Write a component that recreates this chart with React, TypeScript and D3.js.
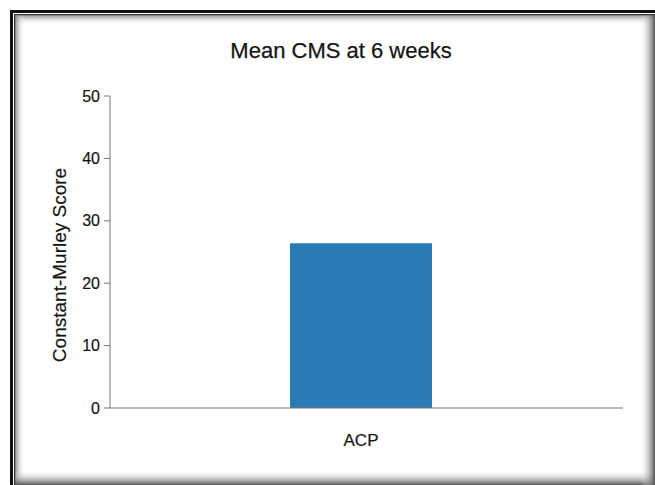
import React from "react";
import * as d3 from "d3";

const categories: string[] = ["ACP"];
const meanScores: number[] = [26.4];
const yTicks: number[] = [0, 10, 20, 30, 40, 50];
const chartTitle = "Mean CMS at 6 weeks";
const yLabel = "Constant-Murley Score";

const W = 655;
const H = 485;
const FONT = "'Liberation Sans', Arial, Helvetica, sans-serif";
const INK = "#141414";

export default function App() {
  const plot = { left: 110, right: 623, top: 96, bottom: 408 };

  const y = d3.scaleLinear().domain([0, 50]).range([plot.bottom, plot.top]);
  const x = d3
    .scaleBand<string>()
    .domain(categories)
    .range([plot.left, 612])
    .padding(0.559);

  return (
    <svg
      width={W}
      height={H}
      style={{ position: "absolute", left: 0, top: 0, background: "#fff" }}
      fontFamily={FONT}
    >
      <defs>
        <linearGradient id="shadeTop" x1="0" y1="0" x2="0" y2="1">
          <stop offset="0" stopColor="#777" />
          <stop offset="1" stopColor="#fff" stopOpacity="0" />
        </linearGradient>
        <linearGradient id="shadeLeft" x1="0" y1="0" x2="1" y2="0">
          <stop offset="0" stopColor="#777" />
          <stop offset="1" stopColor="#fff" stopOpacity="0" />
        </linearGradient>
        <linearGradient id="shadeBottom" x1="0" y1="1" x2="0" y2="0">
          <stop offset="0" stopColor="#555" />
          <stop offset="1" stopColor="#fff" stopOpacity="0" />
        </linearGradient>
        <linearGradient id="shadeRight" x1="1" y1="0" x2="0" y2="0">
          <stop offset="0" stopColor="#555" />
          <stop offset="1" stopColor="#fff" stopOpacity="0" />
        </linearGradient>
      </defs>

      {/* framed panel: dark rule on top/left, soft inner shading all round */}
      <rect x={14} y={14} width={641} height={471} fill="#fff" />
      <rect x={14} y={14} width={641} height={11} fill="url(#shadeTop)" />
      <rect x={14} y={14} width={11} height={471} fill="url(#shadeLeft)" />
      <rect x={14} y={470} width={641} height={15} fill="url(#shadeBottom)" />
      <rect x={640} y={14} width={15} height={471} fill="url(#shadeRight)" />
      <rect x={10} y={10} width={645} height={3} fill="#111" />
      <rect x={10} y={10} width={3} height={475} fill="#111" />
      <rect x={14} y={14} width={641} height={1.2} fill="#333" />
      <rect x={14} y={14} width={1.2} height={471} fill="#333" />

      <g fill={INK} stroke={INK} strokeWidth={0.25}>
        <text x={341} y={58} textAnchor="middle" fontSize={22}>
          {chartTitle}
        </text>
      </g>

      {/* bars */}
      {categories.map((c, i) => (
        <rect
          key={c}
          x={x(c)}
          y={y(meanScores[i])}
          width={x.bandwidth()}
          height={y(0) - y(meanScores[i])}
          fill="#2a7ab4"
        />
      ))}

      {/* y axis */}
      <line x1={plot.left} x2={plot.left} y1={plot.top} y2={plot.bottom} stroke="#777" strokeWidth={1} />
      {yTicks.map((t) => (
        <g key={t} transform={`translate(0,${y(t)})`}>
          <line x1={plot.left - 6} x2={plot.left} stroke="#777" strokeWidth={1} />
          <text
            x={plot.left - 10}
            dy="0.35em"
            textAnchor="end"
            fontSize={16}
            fill={INK}
            stroke={INK}
            strokeWidth={0.2}
          >
            {t}
          </text>
        </g>
      ))}
      <text
        transform={`translate(66,265) rotate(-90)`}
        textAnchor="middle"
        fontSize={19}
        fill={INK}
        stroke={INK}
        strokeWidth={0.2}
      >
        {yLabel}
      </text>

      {/* x axis */}
      <line x1={plot.left} x2={plot.right} y1={plot.bottom} y2={plot.bottom} stroke="#777" strokeWidth={1} />
      {categories.map((c) => (
        <text
          key={c}
          x={(x(c) ?? 0) + x.bandwidth() / 2}
          y={446}
          textAnchor="middle"
          fontSize={17}
          fill={INK}
          stroke={INK}
          strokeWidth={0.2}
        >
          {c}
        </text>
      ))}
    </svg>
  );
}
